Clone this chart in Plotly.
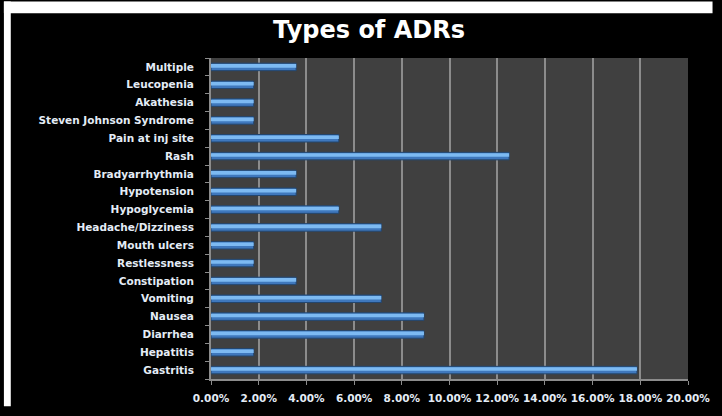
import plotly.graph_objects as go

# Adverse drug reaction categories (bottom to top) and their share of all reports
categories = [
    "Gastritis", "Hepatitis", "Diarrhea", "Nausea", "Vomiting", "Constipation",
    "Restlessness", "Mouth ulcers", "Headache/Dizziness", "Hypoglycemia",
    "Hypotension", "Bradyarrhythmia", "Rash", "Pain at inj site",
    "Steven Johnson Syndrome", "Akathesia", "Leucopenia", "Multiple",
]
percent = [
    17.86, 1.79, 8.93, 8.93, 7.14, 3.57,
    1.79, 1.79, 7.14, 5.36,
    3.57, 3.57, 12.50, 5.36,
    1.79, 1.79, 1.79, 3.57,
]
tick_values = [0, 2, 4, 6, 8, 10, 12, 14, 16, 18, 20]
tick_labels = ["0.00%", "2.00%", "4.00%", "6.00%", "8.00%", "10.00%",
               "12.00%", "14.00%", "16.00%", "18.00%", "20.00%"]

W, H = 722, 416
ML, MR, MT, MB = 211, 25, 58, 28
PW, PH = W - ML - MR, H - MT - MB


def px_x(p):
    return (p - ML) / PW


def px_y(p):
    return 1 - (p - MT) / PH


label_font = dict(family="DejaVu Sans", size=10.5, color="#e4ecf6", weight="bold")

fig = go.Figure()

# main bar body (darker edge)
fig.add_trace(go.Bar(
    y=categories, x=percent, orientation="h",
    width=0.42, offset=-0.21,
    marker=dict(color="#3f78bd", line=dict(color="#23466f", width=1)),
    hoverinfo="x+y", showlegend=False,
))
# light upper highlight for the bevelled look
fig.add_trace(go.Bar(
    y=categories, x=percent, orientation="h",
    width=0.2, offset=-0.04,
    marker=dict(color="#7dbaf2", line=dict(width=0)),
    hoverinfo="skip", showlegend=False,
))

fig.update_layout(
    width=W, height=H,
    margin=dict(l=ML, r=MR, t=MT, b=MB, pad=0),
    paper_bgcolor="black",
    plot_bgcolor="#404040",
    barmode="overlay",
    bargap=0.5,
    title=dict(
        text="Types of ADRs",
        x=px_x(372), xref="paper", xanchor="center",
        y=1 - 30 / H, yref="container", yanchor="middle",
        font=dict(family="DejaVu Sans", size=24, color="white", weight="bold"),
    ),
    xaxis=dict(
        range=[0, 20],
        tickvals=tick_values, ticktext=tick_labels,
        showgrid=True, gridcolor="#8c8c8c", gridwidth=2,
        zeroline=False,
        showline=True, linecolor="#8c8c8c", linewidth=2,
        ticks="outside", ticklen=4, tickcolor="#8c8c8c", tickwidth=1,
        tickfont=label_font,
        ticklabelstandoff=4,
        fixedrange=True,
    ),
    yaxis=dict(
        categoryorder="array", categoryarray=categories,
        showgrid=False, zeroline=False,
        showline=True, linecolor="#8c8c8c", linewidth=2,
        ticks="outside", ticklen=4, tickcolor="#8c8c8c", tickwidth=1,
        tickson="boundaries",
        tickfont=label_font,
        ticklabelstandoff=13,
        range=[-0.5, len(categories) - 0.5],
        fixedrange=True,
    ),
    shapes=[
        # white strips around the black chart panel
        dict(type="rect", xref="paper", yref="paper",
             x0=px_x(0), x1=px_x(W), y0=px_y(12), y1=px_y(0),
             fillcolor="white", line=dict(width=0), layer="above"),
        dict(type="rect", xref="paper", yref="paper",
             x0=px_x(0), x1=px_x(7), y0=px_y(H), y1=px_y(0),
             fillcolor="white", line=dict(width=0), layer="above"),
    ],
)

fig.write_html("out.html")

# dark page background so the panel runs to the window edges
with open("out.html", encoding="utf-8") as f:
    page = f.read()
page = page.replace(
    "<head>",
    "<head><style>html,body{margin:0;padding:0;background:#000;overflow:hidden}</style>",
    1,
)
with open("out.html", "w", encoding="utf-8") as f:
    f.write(page)
